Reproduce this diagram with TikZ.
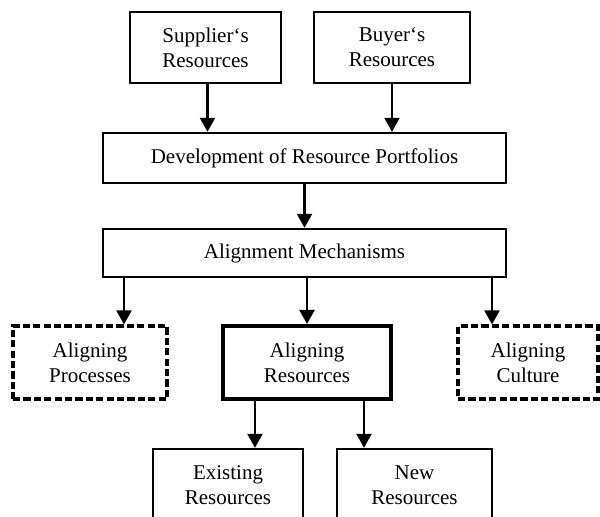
\documentclass[tikz,border=0pt]{standalone}
\usepackage{fontspec}
\setmainfont{Liberation Serif}
\usetikzlibrary{arrows.meta}

\begin{document}
\begin{tikzpicture}[x=0.5pt,y=-0.5pt]

          \tikzstyle{normalBox} = [draw, line width=1.2pt, align=center, inner sep=0pt, font=\fontsize{10.5}{12.5}\selectfont];
          \tikzstyle{focusBox} = [normalBox, line width=2pt];
          \tikzstyle{optionBox} = [normalBox, line width=1.6pt, dash pattern=on 3.6pt off 1.6pt];

          \tikzstyle{normalEdge} = [line width=1.1pt, -{Triangle[width=7.5pt,length=7pt]}];

          \useasboundingbox (0,0) rectangle (600,517);
          \clip (0,0) rectangle (600,517);

          \node[normalBox, minimum width=75.5pt, minimum height=35.5pt] (sup) at (205.5,47.5) {Supplier`s\\Resources};
          \node[normalBox, minimum width=78pt, minimum height=35.5pt] (buy) at (392,47.5) {Buyer`s\\Resources};
          \node[normalBox, minimum width=201.5pt, minimum height=25pt] (dev) at (304.5,158) {Development of Resource Portfolios};
          \node[normalBox, minimum width=201.5pt, minimum height=24pt] (align) at (304.5,253) {Alignment Mechanisms};
          \node[optionBox, minimum width=77pt, minimum height=36.5pt] (proc) at (90,362.5) {Aligning\\Processes};
          \node[focusBox, minimum width=84pt, minimum height=36.5pt] (res) at (307,362.5) {Aligning\\Resources};
          \node[optionBox, minimum width=70pt, minimum height=36.5pt] (cult) at (528,362.5) {Aligning\\Culture};
          \node[normalBox, minimum width=75pt, minimum height=36pt] (exist) at (228,485) {Existing\\Resources};
          \node[normalBox, minimum width=77.5pt, minimum height=36pt] (new) at (414.5,485) {New\\Resources};

          \coordinate (procIn) at ([xshift=17pt]proc.north);
          \coordinate (cultIn) at ([xshift=-18pt]cult.north);
          \coordinate (existOut) at ([xshift=-26pt]res.south);
          \coordinate (newOut) at ([xshift=28.5pt]res.south);

          \draw[normalEdge] ([xshift=1pt]sup.south) -- ([xshift=1pt]sup.south |- dev.north);
          \draw[normalEdge] (buy.south) -- (buy.south |- dev.north);
          \draw[normalEdge] (dev) -- (align);
          \draw[normalEdge] (procIn |- align.south) -- (procIn);
          \draw[normalEdge] (res.north |- align.south) -- (res.north);
          \draw[normalEdge] (cultIn |- align.south) -- (cultIn);
          \draw[normalEdge] (existOut) -- (existOut |- exist.north);
          \draw[normalEdge] (newOut) -- (newOut |- new.north);
        \end{tikzpicture}
\end{document}
